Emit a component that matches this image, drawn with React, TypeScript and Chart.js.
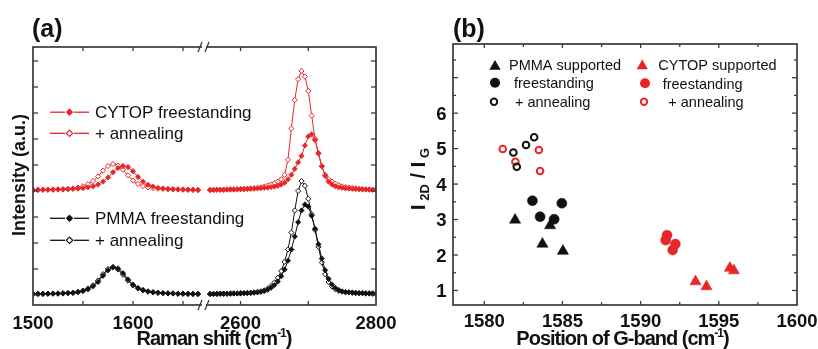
import React, { useEffect, useRef } from 'react';
import { Chart, registerables } from 'chart.js';

Chart.register(...registerables);

const FONT = "'Liberation Sans', Arial, Helvetica, sans-serif";
const RED = '#e8262a';
const BLACK = '#111111';
const FRAME = '#3a3a3a';
const TEXT = '#111111';

// ---------------- Panel (a): Raman spectra ----------------
const ramanLeftX = [1500, 1505, 1510, 1515, 1520, 1525, 1530, 1535, 1540, 1545, 1550, 1555, 1560, 1565, 1570, 1575, 1580, 1585, 1590, 1595, 1600, 1605, 1610, 1615, 1620, 1625, 1630, 1635, 1640, 1645, 1650, 1655, 1660, 1665];
const ramanRightX = [2555, 2560, 2565, 2570, 2575, 2580, 2585, 2590, 2595, 2600, 2605, 2610, 2615, 2620, 2625, 2630, 2635, 2640, 2645, 2650, 2655, 2660, 2665, 2670, 2675, 2680, 2685, 2690, 2695, 2700, 2705, 2710, 2715, 2720, 2725, 2730, 2735, 2740, 2745, 2750, 2755, 2760, 2765, 2770, 2775, 2780, 2785, 2790, 2795, 2800];

const pmmaFreeLeft = [0.04, 0.04, 0.04, 0.05, 0.05, 0.05, 0.06, 0.07, 0.08, 0.11, 0.15, 0.22, 0.33, 0.50, 0.74, 0.95, 1.06, 1.02, 0.84, 0.60, 0.40, 0.27, 0.19, 0.14, 0.11, 0.09, 0.07, 0.06, 0.06, 0.05, 0.05, 0.04, 0.04, 0.04];
const pmmaAnnealLeft = [0.05, 0.05, 0.05, 0.05, 0.06, 0.06, 0.07, 0.08, 0.09, 0.12, 0.17, 0.25, 0.37, 0.56, 0.80, 1.00, 1.08, 0.98, 0.78, 0.55, 0.37, 0.25, 0.18, 0.13, 0.10, 0.08, 0.07, 0.06, 0.06, 0.05, 0.05, 0.05, 0.04, 0.04];
const pmmaFreeRight = [0.04, 0.04, 0.04, 0.05, 0.05, 0.05, 0.05, 0.06, 0.06, 0.06, 0.07, 0.07, 0.08, 0.09, 0.10, 0.12, 0.15, 0.20, 0.28, 0.38, 0.52, 0.72, 0.98, 1.32, 1.75, 2.25, 2.80, 3.25, 3.48, 3.40, 3.05, 2.55, 1.95, 1.40, 0.95, 0.62, 0.40, 0.27, 0.19, 0.14, 0.11, 0.10, 0.09, 0.08, 0.07, 0.07, 0.06, 0.06, 0.05, 0.05];
const pmmaAnnealRight = [0.04, 0.04, 0.05, 0.05, 0.05, 0.05, 0.06, 0.06, 0.06, 0.07, 0.07, 0.08, 0.09, 0.10, 0.12, 0.14, 0.18, 0.24, 0.34, 0.48, 0.66, 0.92, 1.28, 1.75, 2.40, 3.25, 4.00, 4.38, 4.20, 3.70, 3.10, 2.50, 1.85, 1.25, 0.80, 0.50, 0.33, 0.22, 0.16, 0.13, 0.11, 0.10, 0.09, 0.08, 0.07, 0.07, 0.06, 0.06, 0.06, 0.05];
const cytopFreeLeft = [4.04, 4.04, 4.05, 4.05, 4.05, 4.06, 4.06, 4.07, 4.08, 4.09, 4.11, 4.14, 4.18, 4.25, 4.36, 4.52, 4.72, 4.88, 4.96, 4.92, 4.76, 4.54, 4.36, 4.24, 4.17, 4.12, 4.10, 4.08, 4.07, 4.06, 4.06, 4.05, 4.05, 4.04];
const cytopAnnealLeft = [4.04, 4.05, 4.05, 4.05, 4.06, 4.06, 4.07, 4.08, 4.10, 4.13, 4.18, 4.26, 4.38, 4.56, 4.78, 4.96, 5.04, 4.98, 4.82, 4.60, 4.40, 4.27, 4.19, 4.14, 4.11, 4.09, 4.08, 4.07, 4.06, 4.06, 4.05, 4.05, 4.04, 4.04];
const cytopFreeRight = [4.04, 4.04, 4.05, 4.05, 4.05, 4.05, 4.06, 4.06, 4.06, 4.07, 4.07, 4.08, 4.08, 4.09, 4.10, 4.11, 4.12, 4.13, 4.15, 4.17, 4.20, 4.25, 4.32, 4.45, 4.62, 4.85, 5.10, 5.35, 5.75, 6.10, 6.18, 5.96, 5.45, 4.95, 4.58, 4.36, 4.25, 4.18, 4.14, 4.12, 4.10, 4.09, 4.08, 4.07, 4.07, 4.06, 4.06, 4.05, 4.05, 4.05];
const cytopAnnealRight = [4.04, 4.04, 4.05, 4.05, 4.05, 4.06, 4.06, 4.06, 4.07, 4.07, 4.08, 4.09, 4.10, 4.11, 4.12, 4.14, 4.17, 4.21, 4.25, 4.30, 4.36, 4.45, 4.62, 5.20, 6.40, 7.50, 8.30, 8.62, 8.40, 7.85, 6.90, 6.00, 5.45, 4.95, 4.62, 4.45, 4.36, 4.28, 4.22, 4.18, 4.15, 4.13, 4.11, 4.10, 4.08, 4.07, 4.06, 4.06, 4.05, 4.05];

const ramanLeftTicks = [1550, 1600, 1650];
const ramanRightTicks = [2600, 2700];
const ramanLeftLabels = [1500, 1600];
const ramanRightLabels = [2600, 2800];
const intensityTicks = [0, 1, 2, 3, 4, 5, 6, 7, 8, 9];

// ---------------- Panel (b): I2D/IG vs G position ----------------
const pmmaSupportedX = [1581.97, 1583.72, 1584.21, 1585.03];
const pmmaSupportedY = [2.99, 2.31, 2.83, 2.11];
const pmmaFreeX = [1583.08, 1583.57, 1584.47, 1584.96];
const pmmaFreeY = [3.53, 3.08, 3.01, 3.46];
const pmmaAnnealX = [1581.86, 1582.08, 1582.67, 1583.19];
const pmmaAnnealY = [4.89, 4.49, 5.10, 5.32];
const cytopSupportedX = [1593.51, 1594.21, 1595.71, 1595.96];
const cytopSupportedY = [1.25, 1.11, 1.63, 1.56];
const cytopFreeX = [1591.69, 1591.60, 1592.22, 1592.05];
const cytopFreeY = [2.56, 2.42, 2.31, 2.14];
const cytopAnnealX = [1581.18, 1581.99, 1583.49, 1583.57];
const cytopAnnealY = [4.99, 4.63, 4.96, 4.37];

const gbandMajorTicks = [1580, 1585, 1590, 1595];
const gbandMinorTicks = [1582.5, 1587.5, 1592.5, 1597.5];
const gbandLabels = [1580, 1585, 1590, 1595, 1600];
const ratioMajorTicks = [1, 2, 3, 4, 5, 6, 7];
const ratioMinorTicks = [1.5, 2.5, 3.5, 4.5, 5.5, 6.5, 7.5];
const ratioLabels = [1, 2, 3, 4, 5, 6];

function pts(xs: number[], ys: number[]) {
  return xs.map((x, i) => ({ x, y: ys[i] }));
}

type Run = { t: string; size: number; bold?: boolean; dy?: number };

function setFont(ctx: CanvasRenderingContext2D, size: number, bold?: boolean) {
  ctx.font = `${bold ? 'bold ' : ''}${size}px ${FONT}`;
}

function drawRuns(ctx: CanvasRenderingContext2D, runs: Run[], x: number, y: number, align: 'center' | 'left', spacing = 0) {
  ctx.save();
  (ctx as any).letterSpacing = `${spacing}px`;
  ctx.textAlign = 'left';
  ctx.textBaseline = 'alphabetic';
  const widths = runs.map((r) => {
    setFont(ctx, r.size, r.bold);
    return ctx.measureText(r.t).width;
  });
  const total = widths.reduce((a, b) => a + b, 0);
  let cx = align === 'center' ? x - total / 2 : x;
  runs.forEach((r, i) => {
    setFont(ctx, r.size, r.bold);
    ctx.fillText(r.t, cx, y + (r.dy || 0));
    cx += widths[i];
  });
  ctx.restore();
}

function marker(ctx: CanvasRenderingContext2D, style: string, x: number, y: number, r: number, fill: string | null, stroke: string | null, lw: number) {
  ctx.beginPath();
  if (style === 'triangle') {
    ctx.moveTo(x, y - r);
    ctx.lineTo(x + r * 0.866, y + r * 0.5);
    ctx.lineTo(x - r * 0.866, y + r * 0.5);
    ctx.closePath();
  } else if (style === 'rectRot') {
    ctx.moveTo(x, y - r);
    ctx.lineTo(x + r, y);
    ctx.lineTo(x, y + r);
    ctx.lineTo(x - r, y);
    ctx.closePath();
  } else {
    ctx.arc(x, y, r, 0, Math.PI * 2);
  }
  if (fill) {
    ctx.fillStyle = fill;
    ctx.fill();
  }
  if (stroke) {
    ctx.lineWidth = lw;
    ctx.strokeStyle = stroke;
    ctx.stroke();
  }
}

function line(ctx: CanvasRenderingContext2D, x1: number, y1: number, x2: number, y2: number) {
  ctx.beginPath();
  ctx.moveTo(x1, y1);
  ctx.lineTo(x2, y2);
  ctx.stroke();
}

const panelAPlugin = {
  id: 'panelA',
  afterDraw(chart: any) {
    const ctx: CanvasRenderingContext2D = chart.ctx;
    const { left, right, top, bottom } = chart.chartArea;
    const sx1 = chart.scales.x1;
    const sx2 = chart.scales.x2;
    const sy = chart.scales.y;
    ctx.save();
    ctx.strokeStyle = FRAME;
    ctx.lineWidth = 1.7;
    ctx.strokeRect(left, top, right - left, bottom - top);
    ctx.lineWidth = 1.3;
    const tl = 4;
    ramanLeftTicks.forEach((v) => {
      const p = sx1.getPixelForValue(v);
      line(ctx, p, bottom, p, bottom - tl);
      line(ctx, p, top, p, top + tl);
    });
    ramanRightTicks.forEach((v) => {
      const p = sx2.getPixelForValue(v);
      line(ctx, p, bottom, p, bottom - tl);
      line(ctx, p, top, p, top + tl);
    });
    intensityTicks.forEach((v) => {
      const p = sy.getPixelForValue(v);
      line(ctx, left, p, left + 5, p);
      line(ctx, right, p, right - 5, p);
    });
    const xb = sx1.right;
    [top, bottom].forEach((y0) => {
      ctx.fillStyle = '#ffffff';
      ctx.fillRect(xb - 2, y0 - 2, 4, 4);
      ctx.strokeStyle = FRAME;
      ctx.lineWidth = 1.3;
      line(ctx, xb - 6, y0 + 5, xb - 2, y0 - 5);
      line(ctx, xb + 1, y0 + 5, xb + 5, y0 - 5);
    });
    ctx.fillStyle = TEXT;
    setFont(ctx, 18.5, true);
    ctx.textAlign = 'center';
    ctx.textBaseline = 'alphabetic';
    ramanLeftLabels.forEach((v) => ctx.fillText(String(v), sx1.getPixelForValue(v), 328.5));
    ramanRightLabels.forEach((v) => ctx.fillText(String(v), sx2.getPixelForValue(v), 328.5));
    drawRuns(ctx, [
      { t: 'Raman shift (cm', size: 20, bold: true },
      { t: '-1', size: 12, bold: true, dy: -8 },
      { t: ')', size: 20, bold: true },
    ], 214, 345, 'center', -1);
    ctx.save();
    ctx.translate(24.5, 175);
    ctx.rotate(-Math.PI / 2);
    drawRuns(ctx, [{ t: 'Intensity (a.u.)', size: 18, bold: true }], 0, 0, 'center', 0);
    ctx.restore();
    drawRuns(ctx, [{ t: '(a)', size: 25, bold: true }], 32, 36.5, 'left', 0);
    const rows = [
      { y: 112.2, color: RED, open: false, text: 'CYTOP freestanding' },
      { y: 133.3, color: RED, open: true, text: '+ annealing' },
      { y: 218.3, color: BLACK, open: false, text: 'PMMA freestanding' },
      { y: 240.3, color: BLACK, open: true, text: '+ annealing' },
    ];
    rows.forEach((r) => {
      ctx.strokeStyle = r.color;
      ctx.lineWidth = 1.3;
      line(ctx, 50, r.y, 65, r.y);
      line(ctx, 74, r.y, 89, r.y);
      if (r.open) marker(ctx, 'rectRot', 69.5, r.y, 3.2, '#ffffff', r.color, 1.2);
      else marker(ctx, 'rectRot', 69.5, r.y, 3.4, r.color, r.color, 0.8);
      ctx.fillStyle = TEXT;
      drawRuns(ctx, [{ t: r.text, size: 17 }], 95, r.y + 6.1, 'left', 0);
    });
    ctx.restore();
  },
};

const panelBPlugin = {
  id: 'panelB',
  afterDraw(chart: any) {
    const ctx: CanvasRenderingContext2D = chart.ctx;
    const { left, right, top, bottom } = chart.chartArea;
    const sx = chart.scales.x;
    const sy = chart.scales.y;
    ctx.save();
    ctx.strokeStyle = FRAME;
    ctx.lineWidth = 1.7;
    ctx.strokeRect(left, top, right - left, bottom - top);
    ctx.lineWidth = 1.3;
    gbandMajorTicks.forEach((v) => {
      const p = sx.getPixelForValue(v);
      line(ctx, p, bottom, p, bottom - 4);
      line(ctx, p, top, p, top + 4);
    });
    gbandMinorTicks.forEach((v) => {
      const p = sx.getPixelForValue(v);
      line(ctx, p, bottom, p, bottom - 3);
      line(ctx, p, top, p, top + 3);
    });
    ratioMajorTicks.forEach((v) => {
      const p = sy.getPixelForValue(v);
      line(ctx, left, p, left + 5, p);
      line(ctx, right, p, right - 5, p);
    });
    ratioMinorTicks.forEach((v) => {
      const p = sy.getPixelForValue(v);
      line(ctx, left, p, left + 3, p);
      line(ctx, right, p, right - 3, p);
    });
    ctx.fillStyle = TEXT;
    setFont(ctx, 18.5, true);
    ctx.textAlign = 'center';
    ctx.textBaseline = 'alphabetic';
    gbandLabels.forEach((v) => ctx.fillText(String(v), sx.getPixelForValue(v), 327));
    ctx.textAlign = 'right';
    ratioLabels.forEach((v) => ctx.fillText(String(v), 36.5, sy.getPixelForValue(v) + 6.6));
    drawRuns(ctx, [
      { t: 'Position of G-band (cm', size: 20, bold: true },
      { t: '-1', size: 12, bold: true, dy: -8 },
      { t: ')', size: 20, bold: true },
    ], 212.5, 344.5, 'center', -1);
    ctx.save();
    ctx.translate(15, 179);
    ctx.rotate(-Math.PI / 2);
    drawRuns(ctx, [
      { t: 'I', size: 21, bold: true },
      { t: ' 2D', size: 13, bold: true, dy: 4 },
      { t: ' / ', size: 20, bold: true },
      { t: 'I', size: 21, bold: true },
      { t: ' G', size: 13, bold: true, dy: 4 },
    ], 0, 0, 'center', 0);
    ctx.restore();
    drawRuns(ctx, [{ t: '(b)', size: 25, bold: true }], 43, 36.5, 'left', 0);
    const leg = [
      { x: 85, y: 65, style: 'triangle', r: 6.5, fill: BLACK, stroke: null, lw: 0, tx: 99, text: 'PMMA supported' },
      { x: 85, y: 82.7, style: 'circle', r: 5, fill: BLACK, stroke: null, lw: 0, tx: 104, text: 'freestanding' },
      { x: 84, y: 101.7, style: 'circle', r: 3.2, fill: '#ffffff', stroke: BLACK, lw: 2, tx: 105, text: '+ annealing' },
      { x: 232.3, y: 64.5, style: 'triangle', r: 6.5, fill: RED, stroke: null, lw: 0, tx: 248.3, text: 'CYTOP supported' },
      { x: 235, y: 83.3, style: 'circle', r: 5, fill: RED, stroke: null, lw: 0, tx: 252.7, text: 'freestanding' },
      { x: 234, y: 101.7, style: 'circle', r: 3.2, fill: '#ffffff', stroke: RED, lw: 2, tx: 258.3, text: '+ annealing' },
    ];
    leg.forEach((l) => {
      marker(ctx, l.style, l.x, l.y + (l.style === 'triangle' ? 1.5 : 0), l.r, l.fill, l.stroke, l.lw);
      ctx.fillStyle = TEXT;
      drawRuns(ctx, [{ t: l.text, size: 14.5 }], l.tx, l.y + 5.2, 'left', 0);
    });
    ctx.restore();
  },
};

function spectrum(label: string, xs: number[], ys: number[], axis: string, color: string, open: boolean, order: number) {
  return {
    label,
    data: pts(xs, ys),
    xAxisID: axis,
    yAxisID: 'y',
    showLine: true,
    borderColor: color,
    borderWidth: 1,
    pointStyle: 'rectRot',
    pointRadius: open ? 2.6 : 2.7,
    pointBackgroundColor: open ? '#ffffff' : color,
    pointBorderColor: color,
    pointBorderWidth: open ? 1 : 0.6,
    order,
  };
}

function scatterSet(label: string, xs: number[], ys: number[], color: string, style: string, kind: 'filled' | 'open', r: number) {
  return {
    label,
    data: pts(xs, ys),
    pointStyle: style,
    pointRadius: r,
    pointBackgroundColor: kind === 'open' ? 'rgba(255,255,255,0)' : color,
    pointBorderColor: color,
    pointBorderWidth: kind === 'open' ? 2 : 0.5,
    showLine: false,
  };
}

export default function App() {
  const aRef = useRef<HTMLCanvasElement>(null);
  const bRef = useRef<HTMLCanvasElement>(null);

  useEffect(() => {
    const chartA = new Chart(aRef.current as HTMLCanvasElement, {
      type: 'scatter',
      data: {
        datasets: [
          spectrum('PMMA freestanding', ramanLeftX, pmmaFreeLeft, 'x1', BLACK, false, 1),
          spectrum('PMMA freestanding', ramanRightX, pmmaFreeRight, 'x2', BLACK, false, 1),
          spectrum('PMMA + annealing', ramanLeftX, pmmaAnnealLeft, 'x1', BLACK, true, 2),
          spectrum('PMMA + annealing', ramanRightX, pmmaAnnealRight, 'x2', BLACK, true, 2),
          spectrum('CYTOP freestanding', ramanLeftX, cytopFreeLeft, 'x1', RED, false, 1),
          spectrum('CYTOP freestanding', ramanRightX, cytopFreeRight, 'x2', RED, false, 1),
          spectrum('CYTOP + annealing', ramanLeftX, cytopAnnealLeft, 'x1', RED, true, 2),
          spectrum('CYTOP + annealing', ramanRightX, cytopAnnealRight, 'x2', RED, true, 2),
        ] as any,
      },
      options: {
        animation: false,
        responsive: false,
        devicePixelRatio: 1,
        events: [],
        layout: { padding: { left: 33, right: 34, top: 47, bottom: 44 } },
        plugins: { legend: { display: false }, tooltip: { enabled: false } },
        scales: {
          x1: { type: 'linear', position: 'bottom', stack: 'raman', stackWeight: 171, min: 1500, max: 1671, display: false } as any,
          x2: { type: 'linear', position: 'bottom', stack: 'raman', stackWeight: 172, min: 2546, max: 2800, display: false } as any,
          y: { type: 'linear', min: -0.385, max: 9.538, display: false },
        },
      },
      plugins: [panelAPlugin],
    });

    const chartB = new Chart(bRef.current as HTMLCanvasElement, {
      type: 'scatter',
      data: {
        datasets: [
          scatterSet('PMMA supported', pmmaSupportedX, pmmaSupportedY, BLACK, 'triangle', 'filled', 6.5),
          scatterSet('PMMA freestanding', pmmaFreeX, pmmaFreeY, BLACK, 'circle', 'filled', 5),
          scatterSet('PMMA + annealing', pmmaAnnealX, pmmaAnnealY, BLACK, 'circle', 'open', 3.3),
          scatterSet('CYTOP supported', cytopSupportedX, cytopSupportedY, RED, 'triangle', 'filled', 6.5),
          scatterSet('CYTOP freestanding', cytopFreeX, cytopFreeY, RED, 'circle', 'filled', 5),
          scatterSet('CYTOP + annealing', cytopAnnealX, cytopAnnealY, RED, 'circle', 'open', 3.3),
        ] as any,
      },
      options: {
        animation: false,
        responsive: false,
        devicePixelRatio: 1,
        events: [],
        layout: { padding: { left: 43, right: 21, top: 44, bottom: 44 } },
        plugins: { legend: { display: false }, tooltip: { enabled: false } },
        scales: {
          x: { type: 'linear', min: 1578, max: 1600, display: false },
          y: { type: 'linear', min: 0.59, max: 7.95, display: false },
        },
      },
      plugins: [panelBPlugin],
    });

    return () => {
      chartA.destroy();
      chartB.destroy();
    };
  }, []);

  return (
    <div style={{ position: 'absolute', left: 0, top: 0, width: 818, height: 349, background: '#ffffff' }}>
      <canvas ref={aRef} width={410} height={349} style={{ position: 'absolute', left: 0, top: 0, width: 410, height: 349 }} />
      <canvas ref={bRef} width={408} height={349} style={{ position: 'absolute', left: 410, top: 0, width: 408, height: 349 }} />
    </div>
  );
}
